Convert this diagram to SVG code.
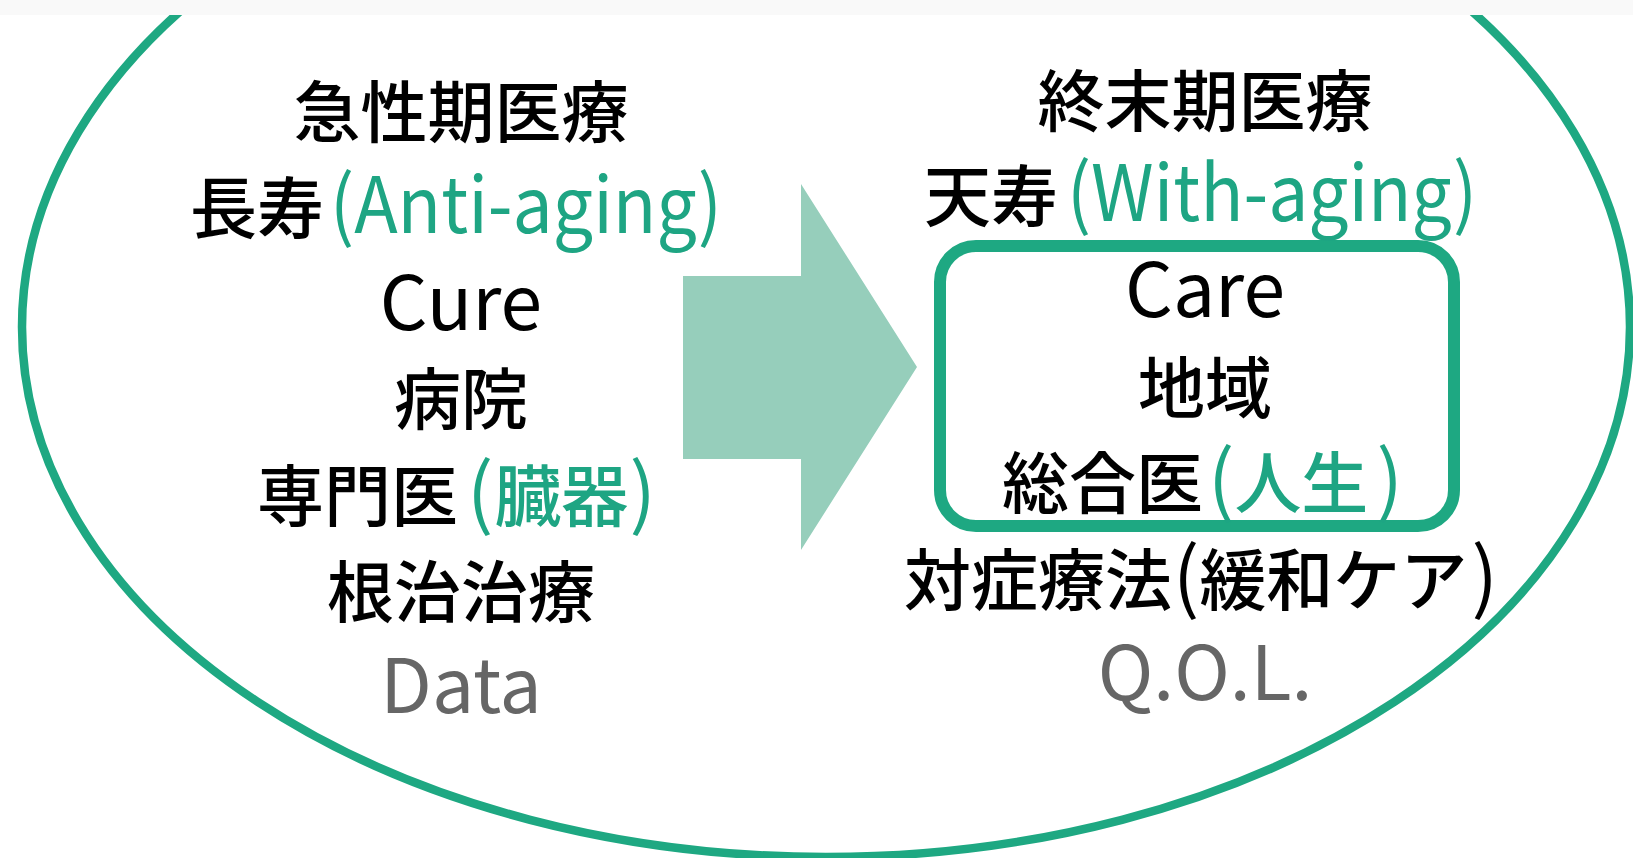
<svg xmlns="http://www.w3.org/2000/svg" width="1633" height="858" viewBox="0 0 1633 858">
  <style>
    .t { font-family: "Noto Sans CJK JP", "Noto Sans", sans-serif; font-size: 67px; font-weight: 500; fill: #000000; }
    .c { text-anchor: middle; }
    .lat { font-size: 78px; font-weight: 400; }
    .big { font-size: 75px; font-weight: 400; }
    .g { fill: #1ea583; }
    .gray { fill: #666666; }
    .frame { fill: none; stroke: #1ea882; }
  </style>
  <defs>
    <clipPath id="clipTop">
      <rect x="0" y="15" width="1633" height="843"/>
    </clipPath>
  </defs>
  <rect x="0" y="0" width="1633" height="858" fill="#ffffff"/>
  <rect x="0" y="0" width="1633" height="15" fill="#f9f9f9"/>

  <g id="outer-ellipse" clip-path="url(#clipTop)">
    <ellipse class="frame" cx="826" cy="327" rx="804" ry="530" stroke-width="8.5"/>
  </g>

  <g id="connectors">
    <polygon id="arrow" points="683,276 801,276 801,184 917,367 801,550 801,459 683,459" fill="#96cebb"/>
  </g>

  <g id="left-column">
    <text id="l1" class="t c" x="461" y="137">急性期医療</text>
    <g id="l2">
      <text class="t" x="190" y="233">長寿</text>
      <text class="t lat g" x="330" y="233" textLength="392" lengthAdjust="spacingAndGlyphs">(Anti-aging)</text>
    </g>
    <text id="l3" class="t c big" x="461" y="330">Cure</text>
    <text id="l4" class="t c" x="461" y="424">病院</text>
    <text id="l5" class="t" x="257" y="521">専門医<tspan class="g lat" dx="9">(</tspan><tspan class="g" dx="1">臓器</tspan><tspan class="g lat" dx="1">)</tspan></text>
    <text id="l6" class="t c" x="461" y="617">根治治療</text>
    <text id="l7" class="t c big gray" x="461" y="713">Data</text>
  </g>

  <g id="care-box">
    <rect class="frame" x="940" y="246" width="514" height="280" rx="36" ry="36" stroke-width="12"/>
  </g>

  <g id="right-column">
    <text id="r1" class="t c" x="1205" y="126">終末期医療</text>
    <g id="r2">
      <text class="t" x="924" y="221">天寿</text>
      <text class="t lat g" x="1067" y="221" textLength="410" lengthAdjust="spacingAndGlyphs">(With-aging)</text>
    </g>
    <text id="r3" class="t c big" x="1205" y="317">Care</text>
    <text id="r4" class="t c" x="1205" y="413">地域</text>
    <text id="r5" class="t" x="1002" y="508">総合医<tspan class="g lat" dx="5">(</tspan><tspan class="g" dx="0">人生</tspan><tspan class="g lat" dx="8">)</tspan></text>
    <text id="r6" class="t" x="904" y="605">対症療法<tspan class="lat" dx="1">(</tspan>緩和ケア<tspan class="lat" dx="4">)</tspan></text>
    <text id="r7" class="t c big gray" x="1205" y="700">Q.O.L.</text>
  </g>
</svg>
